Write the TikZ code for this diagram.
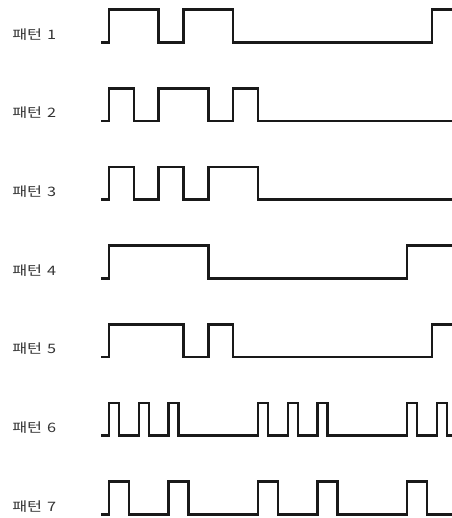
\documentclass[tikz,border=0pt]{standalone}
\usepackage{fontspec}
\newfontfamily\kor{Noto Sans CJK KR}[FakeStretch=1.25]
\begin{document}
\begin{tikzpicture}[x=24.85pt, y=78.67pt,
    wave/.style={line width=2.5pt, draw=black!90},
    patlabel/.style={anchor=west, inner sep=0pt, text=black!80,
        font=\kor\fontsize{13}{15}\selectfont}]
    \useasboundingbox (-4.386,-0.047) rectangle (13.803,6.5375);
    \def\h{0.414}
    % labels
    \node[patlabel] (lbl1) at (-3.9,6.1) {패턴\hspace{5pt}1};
    \node[patlabel] (lbl2) at (-3.9,5.1) {패턴\hspace{5pt}2};
    \node[patlabel] (lbl3) at (-3.9,4.1) {패턴\hspace{5pt}3};
    \node[patlabel] (lbl4) at (-3.9,3.1) {패턴\hspace{5pt}4};
    \node[patlabel] (lbl5) at (-3.9,2.1) {패턴\hspace{5pt}5};
    \node[patlabel] (lbl6) at (-3.9,1.1) {패턴\hspace{5pt}6};
    \node[patlabel] (lbl7) at (-3.9,0.1) {패턴\hspace{5pt}7};
    % waveforms
    \draw[wave] (-0.32,6) -| (0,6+\h) -| (2,6) -| (3,6+\h) -| (5,6) -| (13,6+\h) -- (13.85,6+\h);
    \draw[wave] (-0.32,5) -| (0,5+\h) -| (1,5) -| (2,5+\h) -| (4,5) -| (5,5+\h) -| (6,5) -- (13.85,5);
    \draw[wave] (-0.32,4) -| (0,4+\h) -| (1,4) -| (2,4+\h) -| (3,4) -| (4,4+\h) -| (6,4) -- (13.85,4);
    \draw[wave] (-0.32,3) -| (0,3+\h) -| (4,3) -| (12,3+\h) -- (13.85,3+\h);
    \draw[wave] (-0.32,2) -| (0,2+\h) -| (3,2) -| (4,2+\h) -| (5,2) -| (13,2+\h) -- (13.85,2+\h);
    \draw[wave] (-0.32,1) -| (0,1+\h) -| (0.4,1) -| (1.2,1+\h) -| (1.6,1) -| (2.4,1+\h) -| (2.8,1)
        -| (6,1+\h) -| (6.4,1) -| (7.2,1+\h) -| (7.6,1) -| (8.4,1+\h) -| (8.8,1)
        -| (12,1+\h) -| (12.4,1) -| (13.2,1+\h) -| (13.6,1) -- (13.85,1);
    \draw[wave] (-0.32,0) -| (0,\h) -| (0.8,0) -| (2.4,\h) -| (3.2,0) -| (6,\h) -| (6.8,0)
        -| (8.4,\h) -| (9.2,0) -| (12,\h) -| (12.8,0) -- (13.85,0);
\end{tikzpicture}
\end{document}
